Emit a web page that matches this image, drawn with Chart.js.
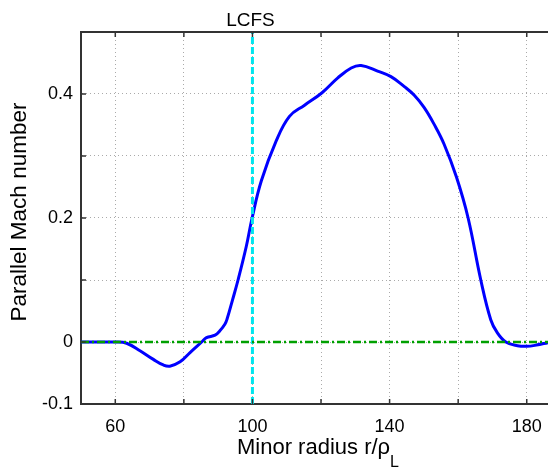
<!DOCTYPE html>
<html>
<head>
<meta charset="utf-8">
<script src="https://cdn.jsdelivr.net/npm/chart.js@4.4.1/dist/chart.umd.min.js"></script>
<style>
  html, body { margin: 0; padding: 0; background: #fff; }
  #wrap { width: 548px; height: 468px; }
</style>
</head>
<body>
<div id="wrap"><canvas id="chart" width="548" height="468"></canvas></div>
<script>
// values
const radius = [50, 55, 60, 63.3, 67.2, 71.1, 74.0, 75.9, 78.9, 81.8, 85.2, 86.6, 89.1, 90.5, 92.0, 92.6,
    94.2, 95.8, 98.2, 99.9, 102.6, 106.9, 110.8, 115.2, 120.3, 124.9, 128.8, 131.7, 136.5, 140.4,
    144.3, 147.2, 150.1, 153.0, 155.9, 159.5, 162.9, 166.6, 169.5, 171.4, 173.9, 177.3, 180,
    182.8, 186.2];
const machNumber = [0, 0, 0, -0.002, -0.014, -0.028, -0.037, -0.039, -0.032, -0.017, 0, 0.007, 0.011,
    0.018, 0.029, 0.037, 0.068, 0.1, 0.154, 0.2, 0.26, 0.324, 0.364, 0.382, 0.402, 0.426, 0.442, 0.446,
    0.437, 0.428, 0.412, 0.398, 0.378, 0.351, 0.319, 0.266, 0.2, 0.1, 0.036, 0.015, 0, -0.006,
    -0.007, -0.005, -0.001];

const zeroLineX = [50, 186.2];
const zeroLineY = [0, 0];
const lcfsX = [100, 100];
const lcfsY = [-0.1, 0.5];

const xTicks = [60, 80, 100, 120, 140, 160, 180];
const xTickLabels = { 60: "60", 100: "100", 140: "140", 180: "180" };
const yTicks = [-0.1, 0, 0.1, 0.2, 0.3, 0.4, 0.5];
const yTickLabels = { "-1": "-0.1", "0": "0", "2": "0.2", "4": "0.4" };

const FONT = "'Liberation Sans', Arial, sans-serif";
const AXIS_COLOR = "#333";

const toPoints = (xs, ys) => xs.map((x, i) => ({ x: x, y: ys[i] }));

const decorations = {
    id: "decorations",
    afterDraw(chart) {
        const { ctx, chartArea, scales } = chart;
        const xs = scales.x;
        const ys = scales.y;
        ctx.save();

        // top border of the box
        ctx.strokeStyle = AXIS_COLOR;
        ctx.lineWidth = 2;
        ctx.beginPath();
        ctx.moveTo(chartArea.left, chartArea.top);
        ctx.lineTo(chartArea.right, chartArea.top);
        ctx.stroke();

        // inward tick marks
        ctx.lineWidth = 1.5;
        ctx.beginPath();
        xTicks.forEach((v) => {
            const px = xs.getPixelForValue(v);
            ctx.moveTo(px, chartArea.bottom);
            ctx.lineTo(px, chartArea.bottom - 5);
            ctx.moveTo(px, chartArea.top);
            ctx.lineTo(px, chartArea.top + 5);
        });
        yTicks.forEach((v) => {
            const py = ys.getPixelForValue(v);
            ctx.moveTo(chartArea.left, py);
            ctx.lineTo(chartArea.left + 5, py);
        });
        ctx.stroke();

        // LCFS label
        ctx.fillStyle = "#000";
        ctx.font = "19px " + FONT;
        ctx.textAlign = "center";
        ctx.textBaseline = "alphabetic";
        ctx.fillText("LCFS", xs.getPixelForValue(100) - 2, 26);

        // x axis title with subscript
        const main = "Minor radius r/\u03c1";
        ctx.font = "22px " + FONT;
        const mainW = ctx.measureText(main).width;
        ctx.font = "16px " + FONT;
        const subW = ctx.measureText("L").width;
        const startX = 318 - (mainW + subW) / 2;
        ctx.textAlign = "left";
        ctx.font = "22px " + FONT;
        ctx.fillText(main, startX, 454);
        ctx.font = "16px " + FONT;
        ctx.fillText("L", startX + mainW, 467);

        // y axis title
        ctx.translate(20, 212);
        ctx.rotate(-Math.PI / 2);
        ctx.font = "22.5px " + FONT;
        ctx.textAlign = "center";
        ctx.textBaseline = "middle";
        ctx.fillText("Parallel Mach number", 0, 0);

        ctx.restore();
    },
};

new Chart(document.getElementById("chart"), {
    type: "line",
    data: {
        datasets: [
            {
                data: toPoints(radius, machNumber),
                borderColor: "#0000ff",
                borderWidth: 3,
                pointRadius: 0,
                tension: 0.4,
                order: 3,
            },
            {
                data: toPoints(lcfsX, lcfsY),
                borderColor: "#00e5ee",
                borderWidth: 3,
                borderDash: [7, 3],
                pointRadius: 0,
                order: 2,
            },
            {
                data: toPoints(zeroLineX, zeroLineY),
                borderColor: "#00a000",
                borderWidth: 2.5,
                borderDash: [8, 3, 2, 3],
                pointRadius: 0,
                order: 1,
            },
        ],
    },
    options: {
        responsive: false,
        animation: false,
        devicePixelRatio: 1,
        layout: { padding: { top: 32, right: 0, left: 0, bottom: 0 } },
        plugins: {
            legend: { display: false },
            tooltip: { enabled: false },
        },
        scales: {
            x: {
                type: "linear",
                min: 50,
                max: 186.2,
                afterBuildTicks: (scale) => {
                    scale.ticks = xTicks.map((v) => ({ value: v }));
                },
                afterFit: (scale) => {
                    scale.height = 64;
                    scale.paddingLeft = 0;
                    scale.paddingRight = 0;
                },
                ticks: {
                    padding: 12,
                    maxRotation: 0,
                    autoSkip: false,
                    color: "#000",
                    font: { family: FONT, size: 18 },
                    callback: (v) => xTickLabels[v] || "",
                },
                grid: { color: "#aaa", lineWidth: 1, drawTicks: false },
                border: { color: AXIS_COLOR, width: 2, dash: [1, 3] },
            },
            y: {
                type: "linear",
                min: -0.1,
                max: 0.5,
                afterBuildTicks: (scale) => {
                    scale.ticks = yTicks.map((v) => ({ value: v }));
                },
                afterFit: (scale) => {
                    scale.width = 81;
                },
                ticks: {
                    padding: 8,
                    autoSkip: false,
                    color: "#000",
                    font: { family: FONT, size: 18 },
                    callback: (v) => yTickLabels[String(Math.round(v * 10))] || "",
                },
                grid: { color: "#aaa", lineWidth: 1, drawTicks: false },
                border: { color: AXIS_COLOR, width: 2, dash: [1, 3] },
            },
        },
    },
    plugins: [decorations],
});
</script>
</body>
</html>
